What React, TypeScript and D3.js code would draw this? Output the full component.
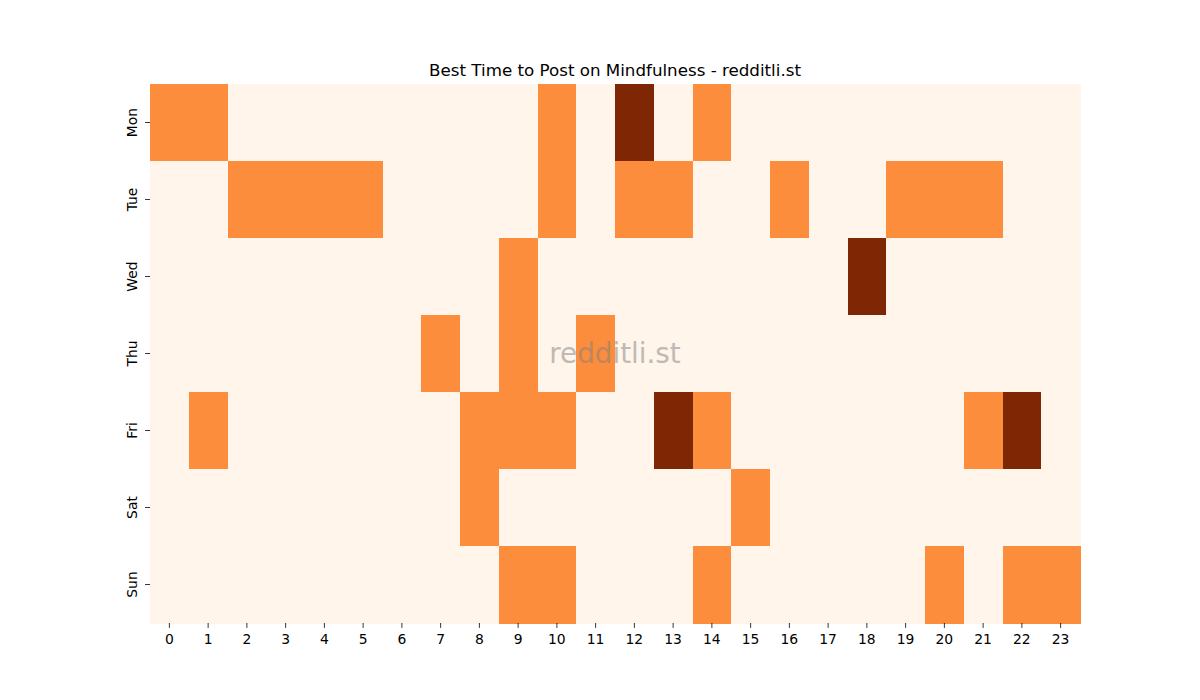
import { useEffect, useRef } from 'react';
import * as d3 from 'd3';

const days = ['Mon', 'Tue', 'Wed', 'Thu', 'Fri', 'Sat', 'Sun'];
const hours = d3.range(24);

// activity level per hour (0 = low, 1 = medium, 2 = high)
const mon = [1, 1, 0, 0, 0, 0, 0, 0, 0, 0, 1, 0, 2, 0, 1, 0, 0, 0, 0, 0, 0, 0, 0, 0];
const tue = [0, 0, 1, 1, 1, 1, 0, 0, 0, 0, 1, 0, 1, 1, 0, 0, 1, 0, 0, 1, 1, 1, 0, 0];
const wed = [0, 0, 0, 0, 0, 0, 0, 0, 0, 1, 0, 0, 0, 0, 0, 0, 0, 0, 2, 0, 0, 0, 0, 0];
const thu = [0, 0, 0, 0, 0, 0, 0, 1, 0, 1, 0, 1, 0, 0, 0, 0, 0, 0, 0, 0, 0, 0, 0, 0];
const fri = [0, 1, 0, 0, 0, 0, 0, 0, 1, 1, 1, 0, 0, 2, 1, 0, 0, 0, 0, 0, 0, 1, 2, 0];
const sat = [0, 0, 0, 0, 0, 0, 0, 0, 1, 0, 0, 0, 0, 0, 0, 1, 0, 0, 0, 0, 0, 0, 0, 0];
const sun = [0, 0, 0, 0, 0, 0, 0, 0, 0, 1, 1, 0, 0, 0, 1, 0, 0, 0, 0, 0, 1, 0, 1, 1];

const rows = [mon, tue, wed, thu, fri, sat, sun];

const title = 'Best Time to Post on Mindfulness - redditli.st';
const watermark = 'redditli.st';

export default function App() {
    const svgRef = useRef<SVGSVGElement>(null);
    const width = 1200;
    const height = 700;
    const margin = { top: 84, right: 120, bottom: 77, left: 150 };

    useEffect(() => {
        if (!svgRef.current) return;
        const svg = d3.select(svgRef.current);
        svg.selectAll('*').remove();

        const innerWidth = width - margin.left - margin.right;
        const innerHeight = height - margin.top - margin.bottom;

        const x = d3.scaleBand<number>().domain(hours).range([0, innerWidth]);
        const y = d3.scaleBand<string>().domain(days).range([0, innerHeight]);
        const color = d3.scaleSequential(d3.interpolateOranges).domain([0, 2]);

        const g = svg.append('g').attr('transform', `translate(${margin.left},${margin.top})`);

        const cells = rows.flatMap((vals, r) => vals.map((v, h) => ({ day: days[r], hour: h, value: v })));

        g.selectAll('rect.cell')
            .data(cells)
            .enter()
            .append('rect')
            .attr('class', 'cell')
            .attr('x', d => x(d.hour)!)
            .attr('y', d => y(d.day)!)
            .attr('width', x.bandwidth() + 0.5)
            .attr('height', y.bandwidth() + 0.5)
            .attr('fill', d => color(d.value))
            .attr('shape-rendering', 'crispEdges');

        const font = 'DejaVu Sans, sans-serif';

        // x axis
        const xAxis = g.append('g').attr('transform', `translate(0,${innerHeight})`);
        hours.forEach(h => {
            const cx = x(h)! + x.bandwidth() / 2;
            xAxis.append('line')
                .attr('x1', cx).attr('x2', cx)
                .attr('y1', 0).attr('y2', 4.9)
                .attr('stroke', '#000').attr('stroke-width', 0.8);
            xAxis.append('text')
                .attr('x', cx).attr('y', 20.5)
                .attr('text-anchor', 'middle')
                .attr('font-family', font)
                .attr('font-size', 13.9)
                .attr('fill', '#000')
                .text(String(h));
        });

        // y axis
        const yAxis = g.append('g');
        days.forEach(d => {
            const cy = y(d)! + y.bandwidth() / 2;
            yAxis.append('line')
                .attr('x1', -4.9).attr('x2', 0)
                .attr('y1', cy).attr('y2', cy)
                .attr('stroke', '#000').attr('stroke-width', 0.8);
            yAxis.append('text')
                .attr('transform', `translate(${-12.8},${cy}) rotate(-90)`)
                .attr('text-anchor', 'middle')
                .attr('font-family', font)
                .attr('font-size', 13.9)
                .attr('fill', '#000')
                .text(d);
        });

        // title
        svg.append('text')
            .attr('x', margin.left + innerWidth / 2)
            .attr('y', margin.top - 8)
            .attr('text-anchor', 'middle')
            .attr('font-family', font)
            .attr('font-size', 16.7)
            .attr('fill', '#000')
            .text(title);

        // watermark
        svg.append('text')
            .attr('x', margin.left + innerWidth / 2)
            .attr('y', margin.top + innerHeight / 2)
            .attr('text-anchor', 'middle')
            .attr('dominant-baseline', 'central')
            .attr('font-family', font)
            .attr('font-size', 27.8)
            .attr('fill', '#808080')
            .attr('opacity', 0.5)
            .text(watermark);
    }, []);

    return (
        <svg
            ref={svgRef}
            width={width}
            height={height}
            viewBox={`0 0 ${width} ${height}`}
            style={{ display: 'block', position: 'absolute', left: 0, top: 0, background: '#fff' }}
        />
    );
}
